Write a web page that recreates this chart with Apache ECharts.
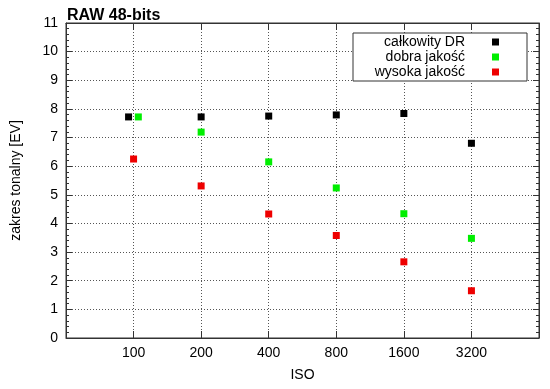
<!DOCTYPE html>
<html>
<head>
<meta charset="utf-8">
<script src="https://cdn.jsdelivr.net/npm/echarts@6/dist/echarts.min.js"></script>
<style>html,body{margin:0;padding:0;background:#fff;}#c{width:550px;height:389px;}</style>
</head>
<body>
<div id="c"></div>
<script>
const isoLabels = [100, 200, 400, 800, 1600, 3200];
const isoTotal = [95, 200, 400, 800, 1600, 3200];
const isoGood = [105, 200, 400, 800, 1600, 3200];
const isoHigh = [100, 200, 400, 800, 1600, 3200];
const drTotal = [7.72, 7.72, 7.75, 7.79, 7.84, 6.80];
const drGood = [7.72, 7.19, 6.15, 5.24, 4.34, 3.48];
const drHigh = [6.25, 5.31, 4.33, 3.58, 2.66, 1.65];
const seriesNames = ['całkowity DR', 'dobra jakość', 'wysoka jakość'];
const seriesColors = ['#000000', '#00ee00', '#ee0000'];

const toX = iso => Math.log2(iso / 100);
const pts = (isos, vals) => isos.map((v, i) => [toX(v), vals[i]]);

const FONT = 'Liberation Sans, Arial, Helvetica, sans-serif';
const frame = '#333';
const gridCol = '#555';

const chart = echarts.init(document.getElementById('c'), null, {renderer: 'canvas'});
const tickLabel = v => {
  const i = Math.round(v);
  return (i >= 0 && i < isoLabels.length) ? String(isoLabels[i]) : '';
};
chart.setOption({
  animation: false,
  backgroundColor: '#fff',
  title: {
    text: 'RAW 48-bits', left: 62, top: 3,
    textStyle: {fontFamily: FONT, fontSize: 16, fontWeight: 'bold', color: '#000'}
  },
  grid: {left: 66, right: 11, top: 23, bottom: 51, show: true, borderColor: frame, borderWidth: 1},
  legend: {
    orient: 'vertical', right: 23, top: 33, align: 'right',
    icon: 'rect', itemWidth: 7, itemHeight: 7, itemGap: 1,
    backgroundColor: '#fff', borderColor: '#333', borderWidth: 1,
    padding: [2, 28, 2, 12],
    textStyle: {fontFamily: FONT, fontSize: 14, color: '#000', lineHeight: 14, width: 100, align: 'right', padding: [0, 22, 0, 0]},
    data: seriesNames
  },
  xAxis: [{
    type: 'value', min: -1, max: 6, interval: 1,
    name: 'ISO', nameLocation: 'middle', nameGap: 30,
    nameTextStyle: {fontFamily: FONT, fontSize: 14, color: '#000'},
    axisLine: {show: true, onZero: false, lineStyle: {color: frame}},
    axisTick: {show: true, inside: true, length: 7, lineStyle: {color: frame}},
    axisLabel: {fontFamily: FONT, fontSize: 14, color: '#000', margin: 8, formatter: tickLabel},
    splitLine: {show: true, lineStyle: {color: gridCol, type: [1, 2], width: 1}}
  }, {
    type: 'value', min: -1, max: 6, interval: 1, position: 'top',
    axisLine: {show: true, onZero: false, lineStyle: {color: frame}},
    axisTick: {show: true, inside: true, length: 7, lineStyle: {color: frame}},
    axisLabel: {show: false},
    splitLine: {show: false}
  }],
  yAxis: [{
    type: 'value', min: 0, max: 11, interval: 1,
    name: 'zakres tonalny [EV]', nameLocation: 'middle', nameGap: 43, nameRotate: 90,
    nameTextStyle: {fontFamily: FONT, fontSize: 14, color: '#000'},
    axisLine: {show: true, onZero: false, lineStyle: {color: frame}},
    axisTick: {show: true, inside: true, length: 6, lineStyle: {color: frame}},
    minorTick: {show: true, splitNumber: 5, length: 3, lineStyle: {color: frame}},
    axisLabel: {fontFamily: FONT, fontSize: 14, color: '#000', margin: 8},
    splitLine: {show: true, lineStyle: {color: gridCol, type: [1, 2], width: 1}}
  }, {
    type: 'value', min: 0, max: 11, interval: 1, position: 'right',
    axisLine: {show: true, onZero: false, lineStyle: {color: frame}},
    axisTick: {show: true, inside: true, length: 6, lineStyle: {color: frame}},
    minorTick: {show: true, splitNumber: 5, length: 3, lineStyle: {color: frame}},
    axisLabel: {show: false},
    splitLine: {show: false}
  }],
  series: [
    {name: seriesNames[0], type: 'scatter', symbol: 'rect', symbolSize: 7, itemStyle: {color: seriesColors[0], opacity: 1}, data: pts(isoTotal, drTotal)},
    {name: seriesNames[1], type: 'scatter', symbol: 'rect', symbolSize: 7, itemStyle: {color: seriesColors[1], opacity: 1}, data: pts(isoGood, drGood)},
    {name: seriesNames[2], type: 'scatter', symbol: 'rect', symbolSize: 7, itemStyle: {color: seriesColors[2], opacity: 1}, data: pts(isoHigh, drHigh)}
  ]
});
</script>
</body>
</html>
